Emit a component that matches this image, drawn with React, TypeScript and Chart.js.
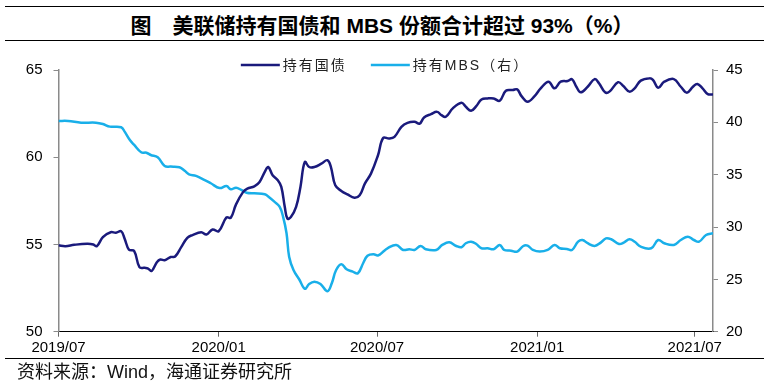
import React, { useEffect, useRef } from "react";
import { Chart, registerables } from "chart.js";

Chart.register(...registerables);

const titleText = "图　美联储持有国债和 MBS 份额合计超过 93%（%）";
const sourceText = "资料来源：Wind，海通证券研究所";
const seriesNames = ["持有国债", "持有MBS（右）"];
const seriesColors = ["#1a1a7c", "#19afe9"];

const xStart = "2019-07-01";
const xEnd = "2021-07-22";
const xTickDates = ["2019-07-01", "2020-01-01", "2020-07-01", "2021-01-01", "2021-07-01"];
const xTickLabels = ["2019/07", "2020/01", "2020/07", "2021/01", "2021/07"];
const leftAxis = { min: 50, max: 65, step: 5 };
const rightAxis = { min: 20, max: 45, step: 5 };

const treasuryDates = [
  "2019-07-01", "2019-07-09", "2019-07-19", "2019-08-03", "2019-08-10", "2019-08-14", "2019-08-21", "2019-08-30",
  "2019-09-05", "2019-09-11", "2019-09-15", "2019-09-20", "2019-09-26", "2019-10-02", "2019-10-08", "2019-10-12",
  "2019-10-16", "2019-10-22", "2019-10-26", "2019-10-31", "2019-11-07", "2019-11-12", "2019-11-19", "2019-11-26",
  "2019-12-02", "2019-12-12", "2019-12-18", "2019-12-25", "2020-01-01", "2020-01-10", "2020-01-15", "2020-01-21",
  "2020-01-29", "2020-02-03", "2020-02-11", "2020-02-17", "2020-02-23", "2020-02-27", "2020-03-03", "2020-03-09",
  "2020-03-13", "2020-03-17", "2020-03-20", "2020-03-24", "2020-03-30", "2020-04-04", "2020-04-09", "2020-04-14",
  "2020-04-20", "2020-04-28", "2020-05-05", "2020-05-09", "2020-05-14", "2020-05-21", "2020-05-28", "2020-06-05",
  "2020-06-11", "2020-06-17", "2020-06-24", "2020-07-02", "2020-07-08", "2020-07-15", "2020-07-21", "2020-07-29",
  "2020-08-05", "2020-08-13", "2020-08-19", "2020-08-24", "2020-09-01", "2020-09-08", "2020-09-13", "2020-09-18",
  "2020-09-26", "2020-10-06", "2020-10-11", "2020-10-17", "2020-10-23", "2020-10-29", "2020-11-05", "2020-11-12",
  "2020-11-19", "2020-11-26", "2020-12-04", "2020-12-09", "2020-12-14", "2020-12-21", "2020-12-29", "2021-01-05",
  "2021-01-14", "2021-01-21", "2021-01-28", "2021-02-05", "2021-02-10", "2021-02-15", "2021-02-20", "2021-02-28",
  "2021-03-08", "2021-03-13", "2021-03-20", "2021-03-25", "2021-04-04", "2021-04-10", "2021-04-17", "2021-04-23",
  "2021-04-30", "2021-05-10", "2021-05-14", "2021-05-20", "2021-05-27", "2021-06-07", "2021-06-15", "2021-06-22",
  "2021-06-29", "2021-07-04", "2021-07-10", "2021-07-16", "2021-07-22",
];
const treasuryValues = [
  54.95, 54.9, 54.98, 55.04, 55.0, 54.9, 55.42, 55.7,
  55.67, 55.76, 55.33, 54.7, 54.62, 53.7, 53.66, 53.62,
  53.48, 53.98, 54.14, 54.1, 54.28, 54.31, 54.85, 55.38,
  55.54, 55.7, 55.57, 55.86, 55.76, 56.55, 56.53, 57.3,
  58.0, 58.2, 58.33, 58.58, 59.16, 59.44, 58.97, 58.68,
  58.3, 57.15, 56.48, 56.57, 57.15, 58.3, 59.73, 59.44,
  59.44, 59.63, 59.83, 59.44, 58.39, 58.07, 57.87, 57.68,
  57.82, 58.49, 59.06, 60.1, 61.1, 61.07, 61.17, 61.74,
  61.97, 62.03, 61.93, 62.28, 62.47, 62.6, 62.41, 62.32,
  62.8, 63.12, 62.89, 62.66, 62.93, 63.31, 63.37, 63.37,
  63.24, 63.81, 63.85, 63.89, 63.5, 63.18, 63.5, 63.95,
  64.33, 63.95, 64.33, 64.37, 64.47, 64.04, 63.72, 64.04,
  64.48, 64.24, 63.72, 63.76, 64.3, 64.08, 63.76, 63.95,
  64.39, 64.52, 64.43, 63.98, 64.33, 64.48, 64.04, 63.7,
  64.04, 64.2, 63.95, 63.62, 63.6,
];

const mbsDates = [
  "2019-07-01", "2019-07-12", "2019-07-27", "2019-08-13", "2019-08-21", "2019-08-29", "2019-09-11", "2019-09-15",
  "2019-09-21", "2019-09-26", "2019-10-04", "2019-10-10", "2019-10-15", "2019-10-23", "2019-10-31", "2019-11-07",
  "2019-11-17", "2019-11-23", "2019-11-28", "2019-12-06", "2019-12-16", "2019-12-23", "2020-01-02", "2020-01-10",
  "2020-01-15", "2020-01-21", "2020-01-27", "2020-02-02", "2020-02-11", "2020-02-23", "2020-02-28", "2020-03-05",
  "2020-03-11", "2020-03-15", "2020-03-19", "2020-03-22", "2020-03-27", "2020-04-03", "2020-04-09", "2020-04-14",
  "2020-04-20", "2020-04-27", "2020-05-05", "2020-05-10", "2020-05-15", "2020-05-21", "2020-05-27", "2020-06-03",
  "2020-06-09", "2020-06-15", "2020-06-20", "2020-06-27", "2020-07-02", "2020-07-09", "2020-07-13", "2020-07-23",
  "2020-07-31", "2020-08-07", "2020-08-13", "2020-08-20", "2020-08-26", "2020-09-07", "2020-09-14", "2020-09-22",
  "2020-09-30", "2020-10-06", "2020-10-11", "2020-10-17", "2020-10-23", "2020-10-29", "2020-11-05", "2020-11-12",
  "2020-11-19", "2020-11-24", "2020-12-02", "2020-12-09", "2020-12-16", "2020-12-21", "2020-12-27", "2021-01-04",
  "2021-01-13", "2021-01-21", "2021-01-27", "2021-02-04", "2021-02-10", "2021-02-17", "2021-02-22", "2021-02-28",
  "2021-03-08", "2021-03-15", "2021-03-21", "2021-03-27", "2021-04-05", "2021-04-11", "2021-04-17", "2021-04-23",
  "2021-04-30", "2021-05-12", "2021-05-20", "2021-05-27", "2021-06-07", "2021-06-15", "2021-06-23", "2021-06-30",
  "2021-07-06", "2021-07-14", "2021-07-22",
];
const mbsValues = [
  40.13, 40.13, 39.97, 39.97, 39.84, 39.59, 39.53, 39.11,
  38.31, 37.84, 37.14, 37.1, 36.88, 36.66, 35.83, 35.77,
  35.71, 35.38, 35.04, 34.88, 34.49, 34.18, 33.72, 33.92,
  33.6, 33.76, 33.54, 33.28, 33.22, 33.13, 32.84, 32.42,
  31.94, 30.99, 29.4, 27.17, 25.9, 24.94, 24.1, 24.56,
  24.78, 24.56, 23.87, 24.63, 25.9, 26.45, 25.97, 25.74,
  25.58, 26.54, 27.25, 27.4, 27.28, 27.71, 27.97, 28.29,
  27.81, 27.88, 27.81, 28.19, 27.88, 27.81, 28.29, 28.54,
  28.19, 28.07, 28.45, 28.6, 28.38, 27.97, 27.97, 27.88,
  28.29, 27.81, 27.74, 27.65, 28.19, 28.22, 27.81, 27.65,
  27.81, 28.29, 27.97, 27.9, 27.81, 28.6, 28.76, 28.45,
  28.19, 28.51, 28.92, 28.83, 28.38, 28.54, 28.83, 28.6,
  28.12, 27.97, 28.76, 28.45, 28.29, 28.76, 29.08, 28.76,
  28.6, 29.24, 29.4,
];

const FONT = '"Liberation Sans", "Noto Sans CJK SC", Arial, sans-serif';
const W = 764;
const H = 391;

const dayOf = (s: string) => (Date.parse(s) - Date.parse(xStart)) / 86400000;

const legendPlugin = {
  id: "manualLegend",
  afterDraw(chart: any) {
    const ctx = chart.ctx as CanvasRenderingContext2D;
    ctx.save();
    ctx.font = `14px ${FONT}`;
    (ctx as any).letterSpacing = "2px";
    ctx.textBaseline = "middle";
    const lineLen = 39;
    const gapText = 3;
    const gapItems = 24;
    const widths = seriesNames.map((n) => ctx.measureText(n).width);
    const total = widths.reduce((a, w) => a + lineLen + gapText + w, 0) + gapItems * (seriesNames.length - 1);
    let x = 385 - total / 2;
    const y = 65;
    seriesNames.forEach((name, i) => {
      ctx.strokeStyle = seriesColors[i];
      ctx.lineWidth = 2.5;
      ctx.beginPath();
      ctx.moveTo(x, y);
      ctx.lineTo(x + lineLen, y);
      ctx.stroke();
      x += lineLen + gapText;
      ctx.fillStyle = "#222";
      ctx.fillText(name, x, y + 1);
      x += widths[i] + gapItems;
    });
    ctx.restore();
  },
};

export default function App() {
  const ref = useRef<HTMLCanvasElement | null>(null);

  useEffect(() => {
    if (!ref.current) return;
    const tickFont = { family: FONT, size: 15 };
    const chart = new Chart(ref.current, {
      type: "line",
      data: {
        datasets: [
          {
            label: seriesNames[0],
            data: treasuryDates.map((d, i) => ({ x: dayOf(d), y: treasuryValues[i] })),
            borderColor: seriesColors[0],
            backgroundColor: seriesColors[0],
            borderWidth: 2.5,
            pointRadius: 0,
            tension: 0.4,
            yAxisID: "y",
          },
          {
            label: seriesNames[1],
            data: mbsDates.map((d, i) => ({ x: dayOf(d), y: mbsValues[i] })),
            borderColor: seriesColors[1],
            backgroundColor: seriesColors[1],
            borderWidth: 2.5,
            pointRadius: 0,
            tension: 0.4,
            yAxisID: "y1",
          },
        ],
      },
      options: {
        responsive: false,
        animation: false,
        devicePixelRatio: 1,
        layout: { padding: { top: 70, left: 0, right: 0, bottom: 0 } },
        plugins: { legend: { display: false }, tooltip: { enabled: false } },
        scales: {
          x: {
            type: "linear",
            min: dayOf(xStart),
            max: dayOf(xEnd),
            afterBuildTicks: (s: any) => {
              s.ticks = xTickDates.map((d) => ({ value: dayOf(d) }));
            },
            afterFit: (s: any) => {
              s.height = 59.3;
            },
            ticks: {
              autoSkip: false,
              maxRotation: 0,
              padding: 2,
              color: "#000",
              font: tickFont,
              callback: (_v: any, i: number) => xTickLabels[i],
            },
            grid: { drawOnChartArea: false, drawTicks: true, tickLength: 5, color: "#666" },
            border: { display: true, color: "#000", width: 1 },
          },
          y: {
            type: "linear",
            position: "left",
            min: leftAxis.min,
            max: leftAxis.max,
            afterFit: (s: any) => {
              s.width = 58.5;
            },
            ticks: { stepSize: leftAxis.step, padding: 11, color: "#000", font: tickFont },
            grid: { drawOnChartArea: false, drawTicks: true, tickLength: 5, color: "#8a8a8a" },
            border: { display: true, color: "#8a8a8a", width: 1.5 },
          },
          y1: {
            type: "linear",
            position: "right",
            min: rightAxis.min,
            max: rightAxis.max,
            afterFit: (s: any) => {
              s.width = 51;
            },
            ticks: { stepSize: rightAxis.step, padding: 8, color: "#000", font: tickFont },
            grid: { drawOnChartArea: false, drawTicks: true, tickLength: 5, color: "#8a8a8a" },
            border: { display: true, color: "#8a8a8a", width: 1.5 },
          },
        },
      },
      plugins: [legendPlugin],
    } as any);
    return () => chart.destroy();
  }, []);

  const rule = (top: number) => (
    <div style={{ position: "absolute", left: 5, width: W - 5, top, height: 0, borderTop: "1.5px solid #000" }} />
  );

  return (
    <div style={{ position: "fixed", left: 0, top: 0, width: W, height: H, background: "#fff", overflow: "hidden" }}>
      {rule(6)}
      <div
        style={{
          position: "absolute",
          left: 0,
          top: 7,
          width: W,
          height: 33,
          display: "flex",
          alignItems: "center",
          justifyContent: "center",
          fontFamily: FONT,
          fontWeight: "bold",
          fontSize: 21,
          color: "#000",
          whiteSpace: "pre",
        }}
      >
        {titleText}
      </div>
      {rule(40)}
      <canvas ref={ref} width={W} height={H} style={{ position: "absolute", left: 0, top: 0, width: W, height: H }} />
      {rule(358)}
      <div
        style={{
          position: "absolute",
          left: 17,
          top: 361,
          height: 22,
          lineHeight: "22px",
          fontFamily: FONT,
          fontSize: 18,
          color: "#111",
          whiteSpace: "pre",
        }}
      >
        {sourceText}
      </div>
    </div>
  );
}
